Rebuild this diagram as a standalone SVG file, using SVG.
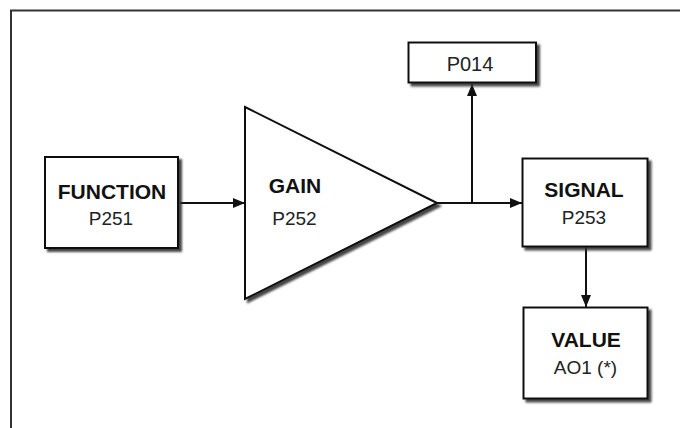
<svg xmlns="http://www.w3.org/2000/svg" width="680" height="428" viewBox="0 0 680 428">
<style>
.box{fill:#fff;stroke:#111;stroke-width:2;filter:url(#sh)}
.b{font-family:"Liberation Sans",Arial,sans-serif;font-weight:bold;font-size:21px;fill:#111;text-anchor:middle}
.r{font-family:"Liberation Sans",Arial,sans-serif;font-size:19px;fill:#222;text-anchor:middle}
.ln{fill:none;stroke:#111;stroke-width:2}
</style>
<defs>
<filter id="sh" x="-10%" y="-10%" width="130%" height="130%">
<feDropShadow dx="3" dy="3" stdDeviation="1" flood-color="#333" flood-opacity="0.9"/>
</filter>
<marker id="ah" viewBox="0 0 12 10" refX="12" refY="5" markerWidth="12" markerHeight="10" markerUnits="userSpaceOnUse" orient="auto">
<path d="M0,0 L12,5 L0,10 Z" fill="#111"/>
</marker>
</defs>
<rect width="680" height="428" fill="#fff"/>
<path d="M11,428 V10.5 H680" fill="none" stroke="#333" stroke-width="2"/>
<g id="connectors">
<line class="ln" x1="180" y1="203" x2="245" y2="203" marker-end="url(#ah)"/>
<line class="ln" x1="437" y1="203" x2="522" y2="203" marker-end="url(#ah)"/>
<line class="ln" x1="472" y1="203" x2="472" y2="84" marker-end="url(#ah)"/>
<line class="ln" x1="586" y1="247" x2="586" y2="307" marker-end="url(#ah)"/>
</g>
<g id="function">
<rect class="box" x="45" y="157" width="133" height="91"/>
<text class="b" x="112" y="199">FUNCTION</text>
<text class="r" x="111" y="225">P251</text>
</g>
<g id="gain">
<polygon class="box" points="245,107 437,203 245,299"/>
<text class="b" x="295" y="193">GAIN</text>
<text class="r" x="294.5" y="225">P252</text>
</g>
<g id="p014">
<rect class="box" x="408.5" y="42.5" width="127.5" height="40"/>
<text class="r" x="470" y="71" style="font-size:20px">P014</text>
</g>
<g id="signal">
<rect class="box" x="522.5" y="158.5" width="125" height="88"/>
<text class="b" x="584" y="197">SIGNAL</text>
<text class="r" x="584" y="224">P253</text>
</g>
<g id="value">
<rect class="box" x="523.5" y="307.5" width="124" height="91"/>
<text class="b" x="586" y="347">VALUE</text>
<text class="r" x="585.5" y="374">AO1 (*)</text>
</g>
</svg>
